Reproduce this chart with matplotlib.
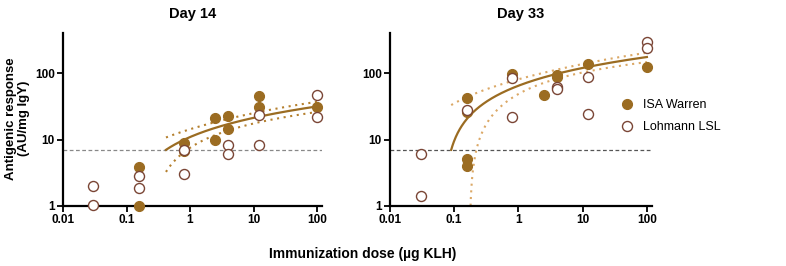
import numpy as np
import matplotlib
matplotlib.use("Agg")
import matplotlib.pyplot as plt
from matplotlib.ticker import FixedLocator, FuncFormatter, NullLocator

plt.rcParams['font.family'] = ['Liberation Sans', 'DejaVu Sans']

# ---- data ----
days = ["Day 14", "Day 33"]

isa_x_d14 = [0.16, 0.16, 0.8, 0.8, 2.5, 2.5, 4, 4, 12, 12, 100]
isa_y_d14 = [3.9, 1.0, 8.9, 6.8, 20.8, 9.8, 22.8, 14.2, 45.6, 30.5, 31]
lsl_x_d14 = [0.03, 0.03, 0.16, 0.16, 0.8, 0.8, 4, 4, 12, 12, 100, 100]
lsl_y_d14 = [2.0, 1.05, 2.8, 1.85, 7.0, 3.0, 8.2, 6.1, 23.4, 8.3, 47.5, 22]

isa_x_d33 = [0.16, 0.16, 0.16, 0.16, 0.8, 2.5, 4, 4, 12, 100]
isa_y_d33 = [41.6, 26, 5.1, 4.0, 98, 47.5, 93, 86, 135, 124]
lsl_x_d33 = [0.03, 0.03, 0.16, 0.8, 0.8, 4, 4, 12, 12, 100, 100]
lsl_y_d33 = [6.05, 1.43, 27.8, 83, 22, 62, 57, 88, 24, 296, 235]

# semilog fit Y = a + b*log10(X) with 95% band  (a, b, h0, k, u0)
fit_d14 = [10.9, 10.3, 3.3, 2.6, 0.3]
fit_d33 = [64.6, 55.0, 15.0, 14.7, 0.4]
cutoff = 7.0

brown = '#9b6c22'
open_edge = '#7a4535'
band_cols = ['#b5802f', '#dba866']

fig = plt.figure(figsize=(7.86, 2.66), dpi=100)
axes = [fig.add_axes([0.0802, 0.2256, 0.3295, 0.650]),
        fig.add_axes([0.4962, 0.2256, 0.3333, 0.650])]

sets = [(isa_x_d14, isa_y_d14, lsl_x_d14, lsl_y_d14, fit_d14),
        (isa_x_d33, isa_y_d33, lsl_x_d33, lsl_y_d33, fit_d33)]

for i, ax in enumerate(axes):
    ix, iy, lx, ly, fit = sets[i]
    a, b, h0, k, u0 = fit
    ax.set_xscale('log')
    ax.set_yscale('log')
    ax.set_xlim(0.01, 120)
    ax.set_ylim(1, 400)

    ax.axhline(cutoff, color='#555555' if i == 1 else '#888888', lw=0.9,
               ls=(0, (3, 2)), zorder=1)

    # fit line and confidence band
    u_start = (cutoff - a) / b
    u = np.linspace(u_start, 2, 300)
    xs = 10 ** u
    yf = a + b * u
    h = np.sqrt(h0 ** 2 + (k * (u - u0)) ** 2)
    lo = yf - h
    lo = np.where(lo > 0.05, lo, np.nan)
    ax.plot(xs, yf, color=brown, lw=1.6, zorder=2)
    ax.plot(xs, yf + h, color=band_cols[i], lw=1.5, ls=(0, (1, 2.2)), zorder=2)
    ax.plot(xs, lo, color=band_cols[i], lw=1.5, ls=(0, (1, 2.2)), zorder=2)

    s1 = ax.scatter(ix, iy, s=52, color=brown, edgecolor=brown, lw=0.8,
                    zorder=3, clip_on=False, label='ISA Warren')
    s2 = ax.scatter(lx, ly, s=52, facecolor='white', edgecolor=open_edge,
                    lw=1.0, zorder=4, clip_on=False, label='Lohmann LSL')

    for sp in ['top', 'right']:
        ax.spines[sp].set_visible(False)
    for sp in ['left', 'bottom']:
        ax.spines[sp].set_linewidth(1.6)
    ax.xaxis.set_major_locator(FixedLocator([0.01, 0.1, 1, 10, 100]))
    ax.yaxis.set_major_locator(FixedLocator([1, 10, 100]))
    ax.xaxis.set_minor_locator(NullLocator())
    ax.yaxis.set_minor_locator(NullLocator())
    ax.xaxis.set_major_formatter(FuncFormatter(lambda v, p: '%g' % v))
    ax.yaxis.set_major_formatter(FuncFormatter(lambda v, p: '%g' % v))
    ax.tick_params(length=4, width=1.3, labelsize=8.5, pad=2)
    for t in ax.get_xticklabels() + ax.get_yticklabels():
        t.set_fontweight('bold')
    ax.set_title(days[i], fontsize=10.5, fontweight='bold', pad=11)

fig.text(0.462, 0.045, 'Immunization dose (µg KLH)', ha='center', va='center',
         fontsize=10, fontweight='bold')
fig.text(0.022, 0.555, 'Antigenic response\n(AU/mg IgY)', ha='center',
         va='center', rotation=90, fontsize=9.5, fontweight='bold',
         linespacing=1.1)

fig.legend(handles=[s1, s2], loc='center left', bbox_to_anchor=(0.767, 0.565),
           frameon=False, fontsize=9, handletextpad=0.3, labelspacing=0.8,
           scatterpoints=1)

fig.savefig('out.png', dpi=100)
